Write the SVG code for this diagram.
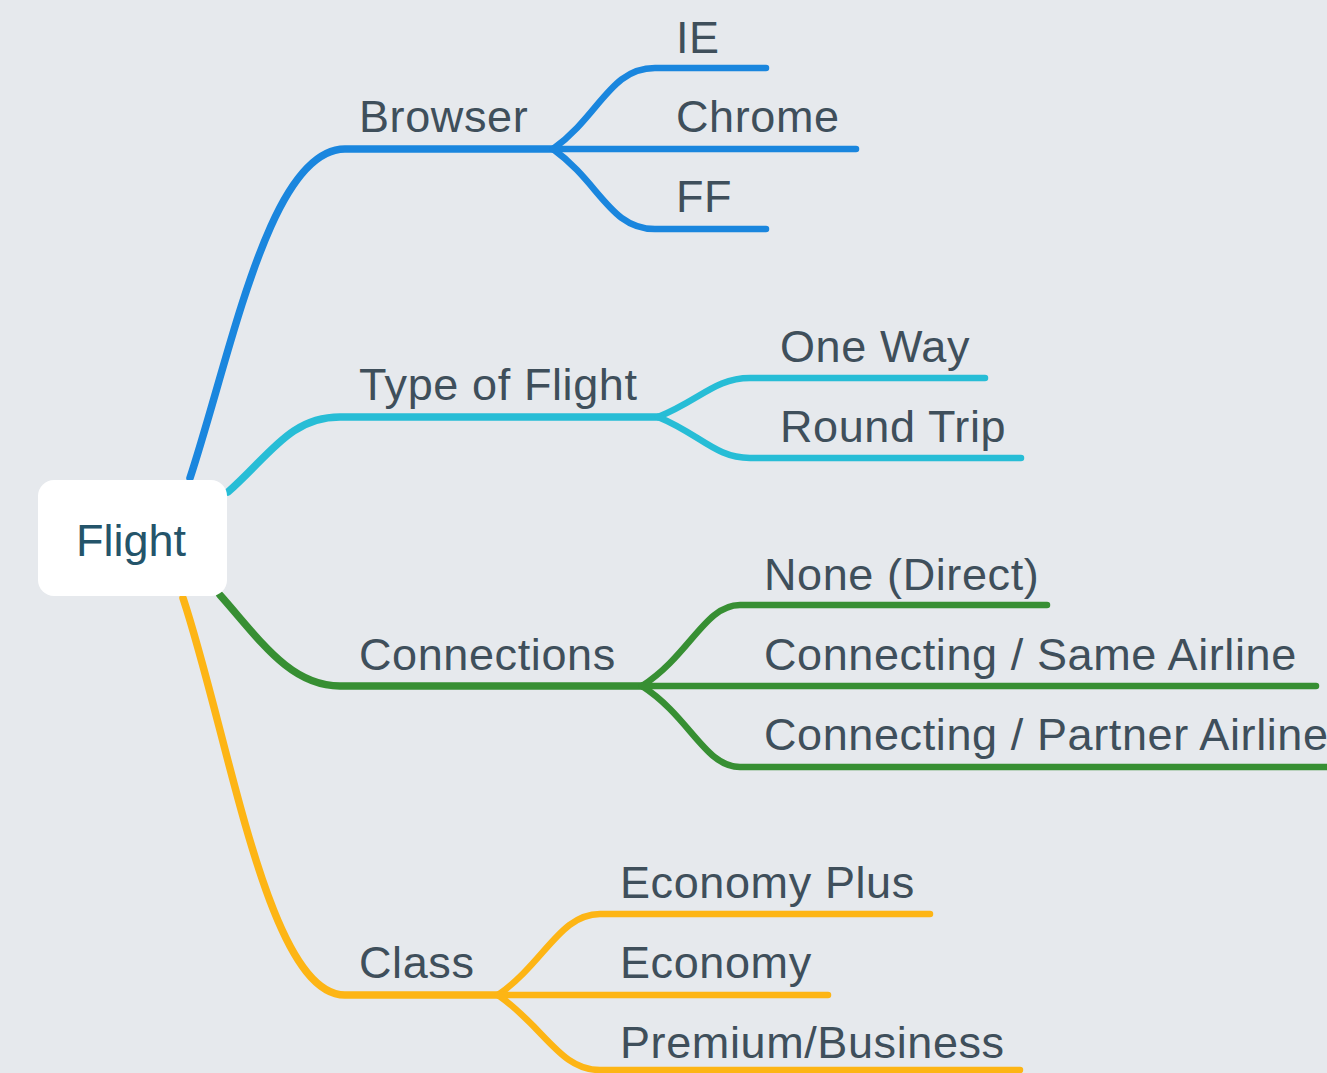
<svg xmlns="http://www.w3.org/2000/svg" width="1327" height="1073" viewBox="0 0 1327 1073">
<style>
.bg{fill:#e6e9ed}
.l{fill:none;stroke-width:6.5;stroke-linecap:round;stroke-linejoin:round}
.m{stroke-width:7.5}
.blue{stroke:#1a86de}
.cyan{stroke:#27bdd6}
.green{stroke:#378f33}
.yellow{stroke:#fdb515}
text{font-family:"Liberation Sans",Arial,sans-serif;font-size:45px;letter-spacing:0.6px;fill:#3f4f5b}
.root{font-size:45px;letter-spacing:0;fill:#24546a}
</style>
<rect class="bg" x="0" y="0" width="1327" height="1073"/>
<g id="connectors">
<path class="l m blue" d="M190,478 C232,350 270,149 345,149 L553,149"/>
<path class="l blue" d="M553,149 C600,115 610,68 655,68 L766,68"/>
<path class="l blue" d="M553,149 L856,149"/>
<path class="l blue" d="M553,149 C600,183 610,229 655,229 L766,229"/>
<path class="l m cyan" d="M228,492 C270,455 290,417 340,417 L658,417"/>
<path class="l cyan" d="M658,417 C700,400 715,378 750,378 L985,378"/>
<path class="l cyan" d="M658,417 C700,434 715,458 750,458 L1021,458"/>
<path class="l m green" d="M220,595 C260,640 290,686 340,686 L642,686"/>
<path class="l green" d="M642,686 C690,655 705,605 740,605 L1047,605"/>
<path class="l green" d="M642,686 L1316,686"/>
<path class="l green" d="M642,686 C690,717 705,767 740,767 L1335,767"/>
<path class="l m yellow" d="M183,598 C230,740 268,995 345,995 L498,995"/>
<path class="l yellow" d="M498,995 C545,962 560,914 600,914 L930,914"/>
<path class="l yellow" d="M498,995 L828,995"/>
<path class="l yellow" d="M498,995 C545,1028 560,1070 600,1070 L1020,1070"/>
</g>
<g id="node-flight">
<rect x="38" y="480" width="189" height="116" rx="16" fill="#ffffff"/>
<text class="root" x="76" y="556">Flight</text>
</g>
<g id="node-browser"><text x="359" y="132">Browser</text></g>
<g id="node-ie"><text x="676" y="53">IE</text></g>
<g id="node-chrome"><text x="676" y="132">Chrome</text></g>
<g id="node-ff"><text x="676" y="212">FF</text></g>
<g id="node-type"><text x="359" y="400">Type of Flight</text></g>
<g id="node-oneway"><text x="780" y="362">One Way</text></g>
<g id="node-roundtrip"><text x="780" y="442">Round Trip</text></g>
<g id="node-connections"><text x="359" y="670">Connections</text></g>
<g id="node-none"><text x="764" y="590">None (Direct)</text></g>
<g id="node-same"><text x="764" y="670">Connecting / Same Airline</text></g>
<g id="node-partner"><text x="764" y="750">Connecting / Partner Airline</text></g>
<g id="node-class"><text x="359" y="978">Class</text></g>
<g id="node-ecoplus"><text x="620" y="898">Economy Plus</text></g>
<g id="node-eco"><text x="620" y="978">Economy</text></g>
<g id="node-premium"><text x="620" y="1058">Premium/Business</text></g>
</svg>
